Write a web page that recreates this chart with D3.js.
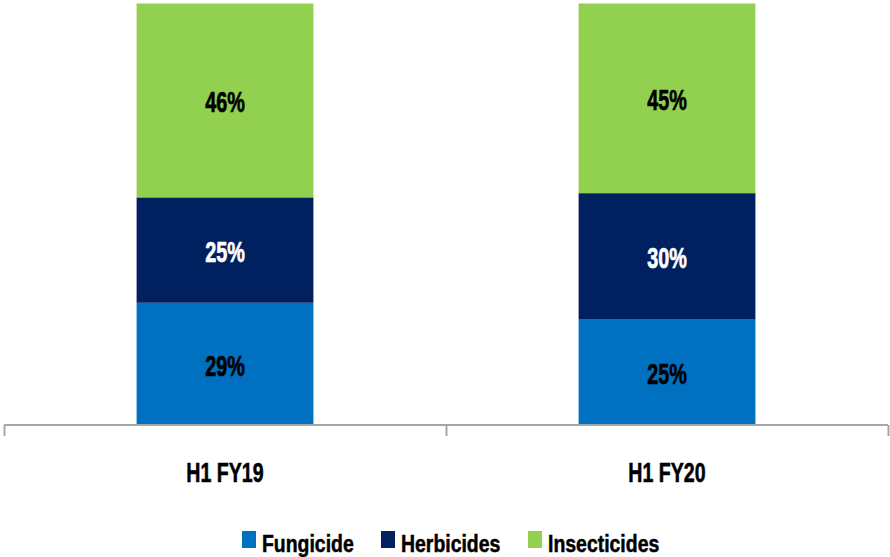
<!DOCTYPE html>
<html><head><meta charset="utf-8">
<script src="https://cdn.jsdelivr.net/npm/d3@7"></script>
<style>
body{margin:0;background:#fff;}
text{font-family:"Liberation Sans",Arial,sans-serif;font-weight:bold;}
</style></head>
<body><svg id="c" width="890" height="557"></svg>
<script>
const categories = ["H1 FY19", "H1 FY20"];
const seriesNames = ["Fungicide", "Herbicides", "Insecticides"];
const fungicide = [29, 25];
const herbicides = [25, 30];
const insecticides = [46, 45];
const colors = ["#0070C0", "#002060", "#92D050"];
const labelColors = ["#000", "#fff", "#000"];

const svg = d3.select("#c");
const x = d3.scaleBand().domain(categories).range([4, 888]).paddingInner(0.6).paddingOuter(0.3);
const y = d3.scaleLinear().domain([0, 100]).range([425, 3.5]);

const rows = categories.map((c, i) => ({cat: c, Fungicide: fungicide[i], Herbicides: herbicides[i], Insecticides: insecticides[i]}));
const stack = d3.stack().keys(seriesNames)(rows);

const g = svg.append("g");
stack.forEach((s, si) => {
  g.selectAll(null).data(s).enter().append("rect")
    .attr("x", d => x(d.data.cat))
    .attr("width", x.bandwidth())
    .attr("y", d => y(d[1]))
    .attr("height", d => y(d[0]) - y(d[1]))
    .attr("fill", colors[si]);
  g.selectAll(null).data(s).enter().append("text")
    .attr("transform", d => `translate(${x(d.data.cat) + x.bandwidth()/2},${(y(d[0]) + y(d[1]))/2 + 12}) scale(0.66,1)`)
    .attr("text-anchor", "middle")
    .attr("font-size", 30)
    .attr("fill", labelColors[si])
    .attr("stroke", labelColors[si]).attr("stroke-width", 0.7)
    .text(d => (d[1] - d[0]) + "%");
});

// axis
const axisX = d3.scaleLinear().domain([0, categories.length]).range([4, 888]);
const ax = svg.append("g").attr("transform", "translate(0,425)")
  .call(d3.axisBottom(axisX).tickValues(d3.range(categories.length + 1)).tickSize(11).tickFormat(""));
ax.select(".domain").attr("stroke", "#a6a6a6").attr("stroke-width", 2).attr("d", "M4,0H888");
ax.selectAll(".tick line").attr("stroke", "#a6a6a6").attr("stroke-width", 2);

svg.selectAll(".cat").data(categories).enter().append("text")
  .attr("transform", d => `translate(${x(d) + x.bandwidth()/2},482) scale(0.7,1)`)
  .attr("text-anchor", "middle").attr("font-size", 28).attr("fill", "#000")
  .attr("stroke", "#000").attr("stroke-width", 0.6)
  .text(d => d);

// legend
const legX = [242, 381, 528];
const leg = svg.append("g");
seriesNames.forEach((n, i) => {
  leg.append("rect").attr("x", legX[i]).attr("y", 531).attr("width", 14).attr("height", 17).attr("fill", colors[i]);
  leg.append("text").attr("transform", `translate(${legX[i] + 20},552) scale(0.81,1)`)
    .attr("font-size", 24).attr("fill", "#000")
    .attr("stroke", "#000").attr("stroke-width", 0.5).text(n);
});
</script></body></html>
